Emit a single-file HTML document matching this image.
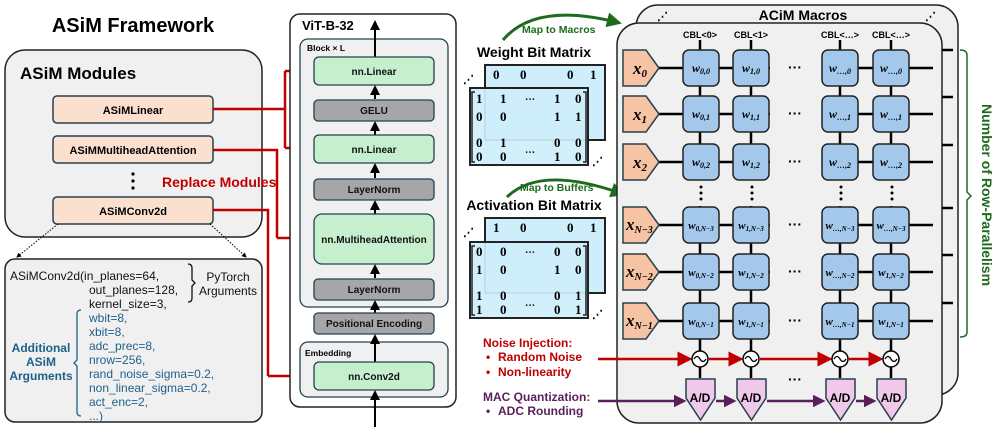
<!DOCTYPE html>
<html><head><meta charset="utf-8"><style>
body{margin:0;background:#fff}
svg{display:block;font-family:"Liberation Sans",sans-serif}
.b{font-weight:bold}
</style></head><body>
<svg width="997" height="427" viewBox="0 0 997 427" xmlns="http://www.w3.org/2000/svg">
<defs>
<marker id="ar" markerWidth="6" markerHeight="6" refX="5" refY="3" orient="auto" markerUnits="strokeWidth"><path d="M0,0 L6,3 L0,6z" fill="#c00000"/></marker>
<marker id="ab" markerWidth="5" markerHeight="5" refX="4" refY="2.5" orient="auto" markerUnits="strokeWidth"><path d="M0,0 L5,2.5 L0,5z" fill="#000"/></marker>
<marker id="ap" markerWidth="5" markerHeight="5" refX="4" refY="2.5" orient="auto" markerUnits="strokeWidth"><path d="M0,0 L5,2.5 L0,5z" fill="#5a1f5a"/></marker>
<marker id="ag" markerWidth="5" markerHeight="5" refX="3" refY="2.5" orient="auto" markerUnits="strokeWidth"><path d="M0,0 L5,2.5 L0,5z" fill="#1e6b1e"/></marker>
</defs>

<!-- LEFT -->
<text x="133" y="32" text-anchor="middle" class="b" font-size="20">ASiM Framework</text>
<rect x="5" y="50" width="257" height="187" rx="20" fill="#f0f0f0" stroke="#222" stroke-width="1.5"/>
<text x="20" y="79" class="b" font-size="17">ASiM Modules</text>
<rect x="53" y="96" width="160" height="27" rx="4" fill="#fbe0d0" stroke="#24404f" stroke-width="1.5"/>
<text x="133" y="114" text-anchor="middle" class="b" font-size="11">ASiMLinear</text>
<rect x="53" y="136" width="160" height="27" rx="4" fill="#fbe0d0" stroke="#24404f" stroke-width="1.5"/>
<text x="133" y="154" text-anchor="middle" class="b" font-size="11">ASiMMultiheadAttention</text>
<circle cx="133" cy="174" r="1.6"/><circle cx="133" cy="181" r="1.6"/><circle cx="133" cy="188" r="1.6"/>
<text x="162" y="187" class="b" font-size="14" fill="#c00000">Replace Modules</text>
<rect x="53" y="197" width="160" height="27" rx="4" fill="#fbe0d0" stroke="#24404f" stroke-width="1.5"/>
<text x="133" y="215" text-anchor="middle" class="b" font-size="11">ASiMConv2d</text>
<line x1="58" y1="224" x2="17" y2="257" stroke="#000" stroke-dasharray="1.5,1.5" marker-end="url(#ab)"/>
<line x1="210" y1="224" x2="246" y2="257" stroke="#000" stroke-dasharray="1.5,1.5" marker-end="url(#ab)"/>
<rect x="5" y="259" width="257" height="163" rx="10" fill="#f0f0f0" stroke="#222" stroke-width="1.5"/>
<g font-size="12" fill="#111">
<text x="10" y="280">ASiMConv2d(in_planes=64,</text>
<text x="89" y="294">out_planes=128,</text>
<text x="89" y="308">kernel_size=3,</text>
</g>
<path d="M188,264 q4,0 4,4 v12 l3,3 l-3,3 v12 q0,4 -4,4" fill="none" stroke="#111" stroke-width="1.3"/>
<text x="228" y="281" text-anchor="middle" font-size="12" fill="#111">PyTorch</text>
<text x="228" y="295" text-anchor="middle" font-size="12" fill="#111">Arguments</text>
<g font-size="12" fill="#1f5f8b">
<text x="89" y="322">wbit=8,</text>
<text x="89" y="336">xbit=8,</text>
<text x="89" y="350">adc_prec=8,</text>
<text x="89" y="364">nrow=256,</text>
<text x="89" y="378">rand_noise_sigma=0.2,</text>
<text x="89" y="392">non_linear_sigma=0.2,</text>
<text x="89" y="406">act_enc=2,</text>
<text x="89" y="420">...)</text>
<text x="41" y="352" text-anchor="middle" class="b">Additional</text>
<text x="41" y="366" text-anchor="middle" class="b">ASiM</text>
<text x="41" y="380" text-anchor="middle" class="b">Arguments</text>
</g>
<path d="M81,310 q-4,0 -4,4 v46 l-3,3 l3,3 v46 q0,4 4,4" fill="none" stroke="#1f5f8b" stroke-width="1.3"/>

<!-- red connectors -->
<g stroke="#c00000" stroke-width="2.5" fill="none">
<polyline points="213,109 285,109"/>
<polyline points="285,71 285,148"/>
<line x1="285" y1="71" x2="311" y2="71" marker-end="url(#ar)"/>
<line x1="285" y1="148" x2="311" y2="148" marker-end="url(#ar)"/>
<polyline points="213,150 277,150 277,238"/>
<line x1="277" y1="238" x2="311" y2="238" marker-end="url(#ar)"/>
<polyline points="213,210 268,210 268,376"/>
<line x1="268" y1="376" x2="311" y2="376" marker-end="url(#ar)"/>
</g>

<!-- ViT -->
<rect x="290" y="14" width="166" height="393" rx="10" fill="#fff" stroke="#222" stroke-width="1.5"/>
<text x="302" y="30" class="b" font-size="13">ViT-B-32</text>
<rect x="300" y="39" width="148" height="268" rx="8" fill="#f0f0f0" stroke="#24404f" stroke-width="1.3"/>
<text x="307" y="51" class="b" font-size="8.5">Block × L</text>
<rect x="300" y="342" width="148" height="55" rx="8" fill="#f0f0f0" stroke="#24404f" stroke-width="1.3"/>
<text x="305" y="356" class="b" font-size="8.5">Embedding</text>
<g stroke="#000" stroke-width="2" fill="none">
<line x1="375" y1="57" x2="375" y2="22" marker-end="url(#ab)"/>
<line x1="375" y1="99" x2="375" y2="87" marker-end="url(#ab)"/>
<line x1="375" y1="135" x2="375" y2="123" marker-end="url(#ab)"/>
<line x1="375" y1="178" x2="375" y2="165" marker-end="url(#ab)"/>
<line x1="375" y1="214" x2="375" y2="202" marker-end="url(#ab)"/>
<line x1="375" y1="278" x2="375" y2="266" marker-end="url(#ab)"/>
<line x1="375" y1="313" x2="375" y2="302" marker-end="url(#ab)"/>
<line x1="375" y1="362" x2="375" y2="336" marker-end="url(#ab)"/>
<line x1="375" y1="427" x2="375" y2="392" marker-end="url(#ab)"/>
</g>
<g stroke="#24404f" stroke-width="1.3" font-size="10" class="b">
<rect x="314" y="57" width="120" height="28" rx="5" fill="#c6efce"/>
<rect x="314" y="100" width="120" height="21" rx="4" fill="#a6a6a6"/>
<rect x="314" y="135" width="120" height="28" rx="5" fill="#c6efce"/>
<rect x="314" y="179" width="120" height="21" rx="4" fill="#a6a6a6"/>
<rect x="314" y="214" width="120" height="50" rx="8" fill="#c6efce"/>
<rect x="314" y="279" width="120" height="21" rx="4" fill="#a6a6a6"/>
<rect x="314" y="313" width="120" height="21" rx="4" fill="#a6a6a6"/>
<rect x="314" y="362" width="120" height="28" rx="5" fill="#c6efce"/>
</g>
<g font-size="10" class="b" text-anchor="middle" fill="#111">
<text x="374" y="75">nn.Linear</text>
<text x="374" y="114">GELU</text>
<text x="374" y="153">nn.Linear</text>
<text x="374" y="193">LayerNorm</text>
<text x="374" y="243">nn.MultiheadAttention</text>
<text x="374" y="293">LayerNorm</text>
<text x="374" y="327">Positional Encoding</text>
<text x="374" y="380">nn.Conv2d</text>
</g>

<!-- Matrices -->
<path d="M503,40 Q535,2 616,22" fill="none" stroke="#1e6b1e" stroke-width="3" marker-end="url(#ag)"/>
<text x="522" y="33" class="b" font-size="10.5" fill="#1e6b1e">Map to Macros</text>
<text x="534" y="57" text-anchor="middle" class="b" font-size="14">Weight Bit Matrix</text>
<g font-family="Liberation Serif" class="b" font-size="13">
<rect x="485" y="65" width="120" height="75" fill="#cfeefc" stroke="#222" stroke-width="2"/>
<text x="493" y="79">0</text><text x="520" y="79">0</text><text x="567" y="79">0</text><text x="590" y="79">1</text>
<rect x="470" y="88" width="118" height="77" fill="#cfeefc" fill-opacity="0.93" stroke="#222" stroke-width="2"/>
<text x="476" y="103">1</text><text x="500" y="103">1</text><text x="554" y="103">1</text><text x="575" y="103">0</text>
<text x="476" y="121">0</text><text x="500" y="121">0</text><text x="554" y="121">1</text><text x="575" y="121">1</text>
<text x="476" y="147">0</text><text x="500" y="147">1</text><text x="554" y="147">0</text><text x="575" y="147">0</text>
<text x="476" y="161">0</text><text x="500" y="161">0</text><text x="554" y="161">1</text><text x="575" y="161">0</text>
<text x="525" y="100" font-size="10">…</text><text x="525" y="153" font-size="10">…</text>
<path d="M475,92 h-3 v70 h3 M583,92 h3 v70 h-3" stroke="#222" fill="none" stroke-width="1.5"/>
</g>
<text x="463" y="83" class="b" font-size="11">⋰</text><text x="592" y="165" class="b" font-size="11">⋰</text>

<path d="M507,197 Q540,165 620,193" fill="none" stroke="#1e6b1e" stroke-width="3" marker-end="url(#ag)"/>
<text x="520" y="191" class="b" font-size="10.5" fill="#1e6b1e">Map to Buffers</text>
<text x="534" y="210" text-anchor="middle" class="b" font-size="14">Activation Bit Matrix</text>
<g font-family="Liberation Serif" class="b" font-size="13">
<rect x="485" y="218" width="120" height="75" fill="#cfeefc" stroke="#222" stroke-width="2"/>
<text x="493" y="232">1</text><text x="520" y="232">0</text><text x="567" y="232">0</text><text x="590" y="232">1</text>
<rect x="470" y="242" width="118" height="76" fill="#cfeefc" fill-opacity="0.93" stroke="#222" stroke-width="2"/>
<text x="476" y="256">0</text><text x="500" y="256">0</text><text x="554" y="256">0</text><text x="575" y="256">0</text>
<text x="476" y="274">1</text><text x="500" y="274">0</text><text x="554" y="274">1</text><text x="575" y="274">0</text>
<text x="476" y="300">1</text><text x="500" y="300">0</text><text x="554" y="300">0</text><text x="575" y="300">1</text>
<text x="476" y="314">1</text><text x="500" y="314">0</text><text x="554" y="314">0</text><text x="575" y="314">1</text>
<text x="525" y="253" font-size="10">…</text><text x="525" y="306" font-size="10">…</text>
<path d="M475,246 h-3 v69 h3 M583,246 h3 v69 h-3" stroke="#222" fill="none" stroke-width="1.5"/>
</g>
<text x="463" y="236" class="b" font-size="11">⋰</text><text x="592" y="318" class="b" font-size="11">⋰</text>

<g class="b" font-size="12">
<text x="483" y="347" fill="#c00000">Noise Injection:</text>
<text x="486" y="361" fill="#c00000">•<tspan x="498">Random Noise</tspan></text>
<text x="486" y="376" fill="#c00000">•<tspan x="498">Non-linearity</tspan></text>
<text x="483" y="401" fill="#5a1f5a">MAC Quantization:</text>
<text x="486" y="415" fill="#5a1f5a">•<tspan x="498">ADC Rounding</tspan></text>
</g>

<!-- ACiM -->
<rect x="636" y="5" width="322" height="390" rx="22" fill="#f0f0f0" stroke="#222" stroke-width="1.5"/>
<text x="803" y="20" text-anchor="middle" class="b" font-size="14">ACiM Macros</text>
<text x="657" y="20" class="b" font-size="11">⋰</text><text x="925" y="20" class="b" font-size="11">⋰</text>
<rect x="617" y="23" width="325" height="400" rx="22" fill="#f0f0f0" stroke="#222" stroke-width="1.5"/>
<g stroke="#000" stroke-width="2.5">
<line x1="942" y1="50" x2="953" y2="50"/><line x1="942" y1="97" x2="953" y2="97"/><line x1="942" y1="145" x2="953" y2="145"/>
<line x1="942" y1="208" x2="953" y2="208"/><line x1="942" y1="255" x2="953" y2="255"/><line x1="942" y1="303" x2="953" y2="303"/>
</g>
<path d="M960,50 q7,0 7,5 v137 l4,4 l-4,4 v132 q0,5 -7,5" fill="none" stroke="#1e6b1e" stroke-width="1.5"/>
<text transform="translate(982,195) rotate(90)" text-anchor="middle" class="b" font-size="14" fill="#1e6b1e">Number of Row-Parallelism</text>

<g font-size="9" class="b" text-anchor="middle">
<text x="700" y="38">CBL&lt;0&gt;</text><text x="751" y="38">CBL&lt;1&gt;</text>
<text x="840" y="38">CBL&lt;…&gt;</text><text x="891" y="38">CBL&lt;…&gt;</text>
</g>
<g stroke="#000" stroke-width="2.5">
<line x1="700" y1="40" x2="700" y2="378"/><line x1="751" y1="40" x2="751" y2="378"/>
<line x1="840" y1="40" x2="840" y2="378"/><line x1="891" y1="40" x2="891" y2="378"/>
<line x1="658" y1="68" x2="933" y2="68"/><line x1="658" y1="114" x2="933" y2="114"/><line x1="658" y1="162" x2="933" y2="162"/>
<line x1="658" y1="225" x2="933" y2="225"/><line x1="658" y1="272" x2="933" y2="272"/><line x1="658" y1="321" x2="933" y2="321"/>
</g>
<g fill="#f0f0f0">
<rect x="770" y="60" width="52" height="16"/><rect x="770" y="106" width="52" height="16"/><rect x="770" y="154" width="52" height="16"/>
<rect x="770" y="217" width="52" height="16"/><rect x="770" y="264" width="52" height="16"/><rect x="770" y="313" width="52" height="16"/>
<rect x="690" y="180" width="220" height="26"/>
</g>
<g font-size="14" class="b" text-anchor="middle">
<text x="795" y="72">···</text><text x="795" y="118">···</text><text x="795" y="166">···</text>
<text x="795" y="229">···</text><text x="795" y="276">···</text><text x="795" y="325">···</text>
<text x="795" y="384">···</text>
</g>
<g fill="#000">
<circle cx="701" cy="187" r="1.5"/><circle cx="701" cy="193" r="1.5"/><circle cx="701" cy="199" r="1.5"/>
<circle cx="752" cy="187" r="1.5"/><circle cx="752" cy="193" r="1.5"/><circle cx="752" cy="199" r="1.5"/>
<circle cx="841" cy="187" r="1.5"/><circle cx="841" cy="193" r="1.5"/><circle cx="841" cy="199" r="1.5"/>
<circle cx="892" cy="187" r="1.5"/><circle cx="892" cy="193" r="1.5"/><circle cx="892" cy="199" r="1.5"/>
</g>
<g fill="#f6c4a4" stroke="#24404f" stroke-width="1.5">
<path d="M623,50 h23 l13,18 l-13,18 h-23z"/><path d="M623,96 h23 l13,18 l-13,18 h-23z"/><path d="M623,144 h23 l13,18 l-13,18 h-23z"/>
<path d="M623,207 h23 l13,18 l-13,18 h-23z"/><path d="M623,254 h23 l13,18 l-13,18 h-23z"/><path d="M623,303 h23 l13,18 l-13,18 h-23z"/>
</g>
<g font-family="Liberation Serif" font-style="italic" class="b" font-size="17">
<text x="633" y="74">x<tspan font-size="11" dy="3">0</tspan></text>
<text x="633" y="120">x<tspan font-size="11" dy="3">1</tspan></text>
<text x="633" y="168">x<tspan font-size="11" dy="3">2</tspan></text>
<text x="626" y="230">x<tspan font-size="10" dy="3">N−3</tspan></text>
<text x="626" y="277">x<tspan font-size="10" dy="3">N−2</tspan></text>
<text x="626" y="326">x<tspan font-size="10" dy="3">N−1</tspan></text>
</g>
<g fill="#a4c8ec" stroke="#222" stroke-width="1.5">
<rect x="683" y="50" width="36" height="36" rx="6"/><rect x="733" y="50" width="36" height="36" rx="6"/><rect x="822" y="50" width="36" height="36" rx="6"/><rect x="873" y="50" width="36" height="36" rx="6"/>
<rect x="683" y="96" width="36" height="36" rx="6"/><rect x="733" y="96" width="36" height="36" rx="6"/><rect x="822" y="96" width="36" height="36" rx="6"/><rect x="873" y="96" width="36" height="36" rx="6"/>
<rect x="683" y="144" width="36" height="36" rx="6"/><rect x="733" y="144" width="36" height="36" rx="6"/><rect x="822" y="144" width="36" height="36" rx="6"/><rect x="873" y="144" width="36" height="36" rx="6"/>
<rect x="683" y="207" width="36" height="36" rx="6"/><rect x="733" y="207" width="36" height="36" rx="6"/><rect x="822" y="207" width="36" height="36" rx="6"/><rect x="873" y="207" width="36" height="36" rx="6"/>
<rect x="683" y="254" width="36" height="36" rx="6"/><rect x="733" y="254" width="36" height="36" rx="6"/><rect x="822" y="254" width="36" height="36" rx="6"/><rect x="873" y="254" width="36" height="36" rx="6"/>
<rect x="683" y="303" width="36" height="36" rx="6"/><rect x="733" y="303" width="36" height="36" rx="6"/><rect x="822" y="303" width="36" height="36" rx="6"/><rect x="873" y="303" width="36" height="36" rx="6"/>
</g>
<g font-family="Liberation Serif" font-style="italic" class="b" font-size="12" text-anchor="middle">
<text x="701" y="72">w<tspan font-size="8" dy="2">0,0</tspan></text><text x="751" y="72">w<tspan font-size="8" dy="2">1,0</tspan></text><text x="840" y="72">w<tspan font-size="8" dy="2">…,0</tspan></text><text x="891" y="72">w<tspan font-size="8" dy="2">…,0</tspan></text>
<text x="701" y="118">w<tspan font-size="8" dy="2">0,1</tspan></text><text x="751" y="118">w<tspan font-size="8" dy="2">1,1</tspan></text><text x="840" y="118">w<tspan font-size="8" dy="2">…,1</tspan></text><text x="891" y="118">w<tspan font-size="8" dy="2">…,1</tspan></text>
<text x="701" y="166">w<tspan font-size="8" dy="2">0,2</tspan></text><text x="751" y="166">w<tspan font-size="8" dy="2">1,2</tspan></text><text x="840" y="166">w<tspan font-size="8" dy="2">…,2</tspan></text><text x="891" y="166">w<tspan font-size="8" dy="2">…,2</tspan></text>
<text x="701" y="229" font-size="11">w<tspan font-size="7" dy="2">0,N−3</tspan></text><text x="751" y="229" font-size="11">w<tspan font-size="7" dy="2">1,N−3</tspan></text><text x="840" y="229" font-size="11">w<tspan font-size="7" dy="2">…,N−3</tspan></text><text x="891" y="229" font-size="11">w<tspan font-size="7" dy="2">…,N−3</tspan></text>
<text x="701" y="276" font-size="11">w<tspan font-size="7" dy="2">0,N−2</tspan></text><text x="751" y="276" font-size="11">w<tspan font-size="7" dy="2">1,N−2</tspan></text><text x="840" y="276" font-size="11">w<tspan font-size="7" dy="2">…,N−2</tspan></text><text x="891" y="276" font-size="11">w<tspan font-size="7" dy="2">1,N−2</tspan></text>
<text x="701" y="325" font-size="11">w<tspan font-size="7" dy="2">0,N−1</tspan></text><text x="751" y="325" font-size="11">w<tspan font-size="7" dy="2">1,N−1</tspan></text><text x="840" y="325" font-size="11">w<tspan font-size="7" dy="2">…,N−1</tspan></text><text x="891" y="325" font-size="11">w<tspan font-size="7" dy="2">1,N−1</tspan></text>
</g>
<g stroke="#c00000" stroke-width="2.5">
<line x1="598" y1="359" x2="690" y2="359" marker-end="url(#ar)"/>
<line x1="709" y1="359" x2="741" y2="359" marker-end="url(#ar)"/>
<line x1="760" y1="359" x2="830" y2="359" marker-end="url(#ar)"/>
<line x1="849" y1="359" x2="881" y2="359" marker-end="url(#ar)"/>
</g>
<g fill="#fff" stroke="#000" stroke-width="1.5">
<circle cx="700" cy="359" r="8"/><circle cx="751" cy="359" r="8"/><circle cx="840" cy="359" r="8"/><circle cx="891" cy="359" r="8"/>
</g>
<g fill="none" stroke="#000" stroke-width="1.3">
<path d="M694,359 q3,-5 6,0 t6,0"/><path d="M745,359 q3,-5 6,0 t6,0"/><path d="M834,359 q3,-5 6,0 t6,0"/><path d="M885,359 q3,-5 6,0 t6,0"/>
</g>
<g stroke="#5a1f5a" stroke-width="2.5">
<line x1="598" y1="401" x2="684" y2="401" marker-end="url(#ap)"/>
<line x1="716" y1="401" x2="734" y2="401" marker-end="url(#ap)"/>
<line x1="767" y1="401" x2="823" y2="401" marker-end="url(#ap)"/>
<line x1="856" y1="401" x2="874" y2="401" marker-end="url(#ap)"/>
</g>
<g fill="#f0c8ea" stroke="#24404f" stroke-width="1.5">
<path d="M686,379 h29 v19 l-14.5,22 l-14.5,-22z"/><path d="M737,379 h29 v19 l-14.5,22 l-14.5,-22z"/>
<path d="M826,379 h29 v19 l-14.5,22 l-14.5,-22z"/><path d="M877,379 h29 v19 l-14.5,22 l-14.5,-22z"/>
</g>
<g class="b" font-size="12" text-anchor="middle">
<text x="700" y="402">A/D</text><text x="751" y="402">A/D</text><text x="840" y="402">A/D</text><text x="891" y="402">A/D</text>
</g>
</svg>
</body></html>
